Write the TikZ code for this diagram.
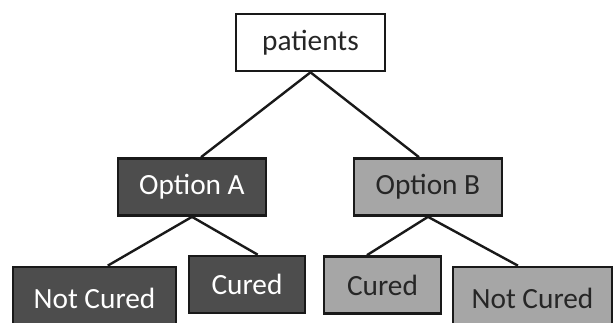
\documentclass[tikz,border=0pt]{standalone}
\usepackage{fontspec}
\setmainfont{Carlito}
\usepackage{xcolor}
\usepackage{tikz}
\usetikzlibrary{calc}
\definecolor{optdark}{RGB}{77,77,77}
\definecolor{optlight}{RGB}{166,166,166}

\begin{document}
\begin{tikzpicture}[x=.75pt,y=-.75pt,
  font=\fontsize{22}{26}\selectfont,
  box/.style={draw=black!90,line width=2pt,inner sep=0pt,minimum height=42.75pt},
  root/.style={box,fill=white,text=black!85,minimum width=111.75pt},
  darkbox/.style={box,fill=optdark,text=white},
  lightbox/.style={box,fill=optlight,text=black!85},
  branch/.style={draw=black!90,line width=1.8pt}]

\path[use as bounding box] (0,0) rectangle (615,322);
\node[root] (pat) at (310.5,42.5) {patients};
\node[darkbox,minimum width=111pt] (optA) at (192,187) {Option A};
\node[lightbox,minimum width=111pt] (optB) at (428,187) {Option B};
\node[darkbox,minimum width=122.25pt,minimum height=46.5pt] (notA) at (94.5,298) {Not Cured};
\node[darkbox,minimum width=87pt] (curA) at (247,284.5) {Cured};
\node[lightbox,minimum width=87.75pt] (curB) at (382.5,285) {Cured};
\node[lightbox,minimum width=119.25pt,minimum height=46.5pt] (notB) at (532.5,298) {Not Cured};
\draw[branch] (pat.south)--($(optA.north west)!.56!(optA.north east)$);
\draw[branch] (pat.south)--($(optB.north west)!.44!(optB.north east)$);
\draw[branch] (optA.south)--($(notA.north west)!.58!(notA.north east)$);
\draw[branch] (optA.south)--($(curA.north west)!.59!(curA.north east)$);
\draw[branch] (optB.south)--($(curB.north west)!.37!(curB.north east)$);
\draw[branch] (optB.south)--($(notB.north west)!.41!(notB.north east)$);

\end{tikzpicture}
\end{document}
